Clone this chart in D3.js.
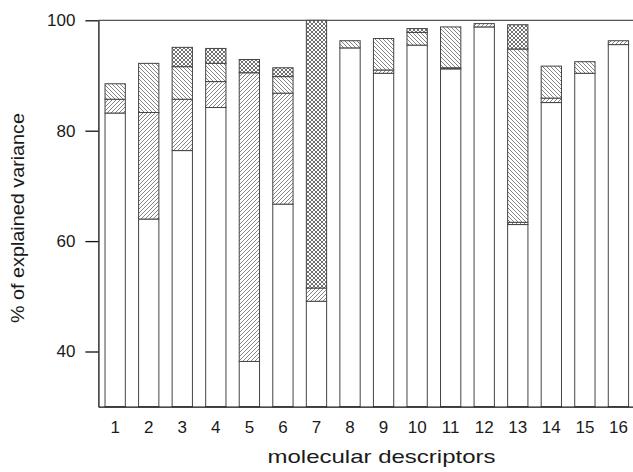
<!DOCTYPE html>
<html>
<head>
<meta charset="utf-8">
<script src="https://cdn.jsdelivr.net/npm/d3@7"></script>
<style>
  body { margin: 0; background: #fff; }
  svg text { font-family: "Liberation Sans", Arial, sans-serif; fill: #1a1a1a; }
</style>
</head>
<body>
<div id="chart"></div>
<script>
var descriptors = ["1","2","3","4","5","6","7","8","9","10","11","12","13","14","15","16"];
// share of each component, stacked from bottom to top
var pc1 = [83.2, 64.0, 76.4, 84.2, 38.2, 66.7, 49.1, 95.0, 90.4, 95.5, 91.2, 98.8, 63.0, 85.1, 90.4, 95.6];
var pc2 = [2.5, 19.3, 9.3, 4.7, 52.3, 20.1, 2.4, 0, 0.6, 0, 0.2, 0.6, 0.4, 0.8, 0, 0.7];
var pc3 = [2.8, 8.9, 5.9, 3.3, 0, 3.0, 0, 1.3, 5.7, 2.3, 7.4, 0, 31.4, 5.8, 2.1, 0];
var pc4 = [0, 0, 3.5, 2.7, 2.4, 1.6, 48.5, 0, 0, 0.7, 0, 0, 4.4, 0, 0, 0];
var yTicks = [40, 60, 80, 100];

var keys = ["pc1", "pc2", "pc3", "pc4"];
var fills = { pc1: "#fff", pc2: "url(#fwd)", pc3: "url(#bwd)", pc4: "url(#cross)" };

var rows = descriptors.map(function (d, i) {
  return { name: d, pc1: pc1[i], pc2: pc2[i], pc3: pc3[i], pc4: pc4[i] };
});

var svg = d3.select("#chart").append("svg")
  .attr("width", 633)
  .attr("height", 472);

// hatch patterns
var defs = svg.append("defs");
var addPattern = function (id, size, d, w) {
  defs.append("pattern")
    .attr("id", id)
    .attr("patternUnits", "userSpaceOnUse")
    .attr("width", size)
    .attr("height", size)
    .call(function (p) {
      p.append("rect").attr("width", size).attr("height", size).attr("fill", "#fff");
      p.append("path").attr("d", d)
        .attr("stroke", "#333")
        .attr("stroke-width", w)
        .attr("fill", "none");
    });
};
addPattern("fwd", 4, "M-1,1 l2,-2 M0,4 l4,-4 M3,5 l2,-2", 0.6);
addPattern("bwd", 4, "M-1,3 l2,2 M0,0 l4,4 M3,-1 l2,2", 0.6);
addPattern("cross", 4, "M-1,1 l2,-2 M0,4 l4,-4 M3,5 l2,-2 M-1,3 l2,2 M0,0 l4,4 M3,-1 l2,2", 0.7);

var x = d3.scaleBand()
  .domain(descriptors)
  .range([98.4, 635.2])
  .paddingInner(0.395)
  .paddingOuter(0.1975);

var y = d3.scaleLinear()
  .domain([30, 100])
  .range([406.7, 20.3])
  .clamp(true);

var series = d3.stack().keys(keys)(rows);

svg.append("g").selectAll("g")
  .data(series)
  .enter().append("g")
    .attr("fill", function (s) { return fills[s.key]; })
  .selectAll("rect")
  .data(function (s) { return s; })
  .enter().append("rect")
    .attr("x", function (d) { return x(d.data.name); })
    .attr("y", function (d) { return y(d[1]); })
    .attr("width", x.bandwidth())
    .attr("height", function (d) { return y(d[0]) - y(d[1]); })
    .attr("stroke", "#444")
    .attr("stroke-width", 1)
    .style("display", function (d) { return d[1] - d[0] > 0 ? null : "none"; });

// frame top line
svg.append("line")
  .attr("x1", 98.4).attr("x2", 633)
  .attr("y1", y(100)).attr("y2", y(100))
  .attr("stroke", "#555")
  .attr("stroke-width", 1.2);

var yAxis = svg.append("g")
  .attr("transform", "translate(98.4,0)")
  .call(d3.axisLeft(y).tickValues(yTicks).tickSize(13).tickPadding(10).tickSizeOuter(0));
yAxis.selectAll("text").style("font-size", "17px");
yAxis.selectAll("path, line").attr("stroke", "#111").attr("stroke-width", 1.3);

var xAxis = svg.append("g")
  .attr("transform", "translate(0,406.7)")
  .call(d3.axisBottom(x).tickSize(0).tickPadding(14).tickSizeOuter(0));
xAxis.selectAll("text").style("font-size", "17px");
xAxis.select(".domain").attr("stroke", "#111").attr("stroke-width", 1.3);

svg.append("text")
  .attr("x", 381.5)
  .attr("y", 463)
  .attr("text-anchor", "middle")
  .attr("textLength", 228)
  .attr("lengthAdjust", "spacingAndGlyphs")
  .style("font-size", "19px")
  .text("molecular descriptors");

svg.append("text")
  .attr("transform", "translate(23.5,218) rotate(-90)")
  .attr("text-anchor", "middle")
  .attr("textLength", 210)
  .attr("lengthAdjust", "spacingAndGlyphs")
  .style("font-size", "18px")
  .text("% of explained variance");
</script>
</body>
</html>
